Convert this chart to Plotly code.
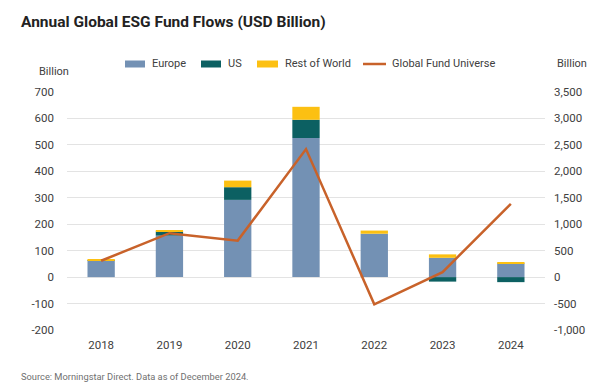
import plotly.graph_objects as go

years = ["2018", "2019", "2020", "2021", "2022", "2023", "2024"]
europe = [61, 157, 292, 526, 164, 73, 53]
us = [3, 15, 48, 69, 0, -17, -19]
rest_of_world = [3, 4, 25, 49, 12, 13, 2]
global_universe = [310, 830, 690, 2420, -515, 95, 1385]

left_ticks = [-200, -100, 0, 100, 200, 300, 400, 500, 600, 700]
left_labels = ["-200", "-100", "0", "100", "200", "300", "400", "500", "600", "700"]
right_ticks = [-1000, -500, 0, 500, 1000, 1500, 2000, 2500, 3000, 3500]
right_labels = ["-1,000", "-500", "0", "500", "1,000", "1,500", "2,000", "2,500", "3,000", "3,500"]

FONT = "Roboto, sans-serif"
TXT = "#404040"
C_EU, C_US, C_ROW, C_LINE = "#7391B4", "#0C6062", "#FCC012", "#C8622A"

# page has an 8px body margin: work in reference pixels and shift
OFF = 8
W, H = 592, 380
l, r, t, b = 59, 55, 84, 58
pw, ph = W - l - r, H - t - b
def px(xr): return (xr - OFF - l) / pw
def py(yr): return (H - b - (yr - OFF)) / ph

fig = go.Figure()
fig.add_bar(x=years, y=europe, name="Europe", marker_color=C_EU, marker_line_width=0)
fig.add_bar(x=years, y=us, name="US", marker_color=C_US, marker_line_width=0)
fig.add_bar(x=years, y=rest_of_world, name="Rest of World", marker_color=C_ROW, marker_line_width=0)
fig.add_scatter(x=years, y=global_universe, name="Global Fund Universe", mode="lines",
                line=dict(color=C_LINE, width=2.5), yaxis="y2")

annotations = [
    dict(text="<b>Annual Global ESG Fund Flows (USD Billion)</b>", x=px(19), y=py(22),
         xanchor="left", yanchor="middle", font=dict(size=15.5, color="#222222")),
    dict(text="Billion", x=px(37), y=py(71), xanchor="left", yanchor="middle",
         font=dict(size=11, color=TXT)),
    dict(text="Billion", x=px(555), y=py(64), xanchor="left", yanchor="middle",
         font=dict(size=11, color=TXT)),
    dict(text="Source: Morningstar Direct. Data as of December 2024.", x=px(19), y=py(376),
         xanchor="left", yanchor="middle", font=dict(size=9.3, color="#707070")),
]
shapes = []
# manual legend (swatches + labels) in reference pixel positions
legend_items = [
    ("Europe", C_EU, 125, 145, 150, "rect"),
    ("US", C_US, 201, 221, 226, "rect"),
    ("Rest of World", C_ROW, 257, 278, 283, "rect"),
    ("Global Fund Universe", C_LINE, 363, 386, 390, "line"),
]
LY = 64
for name, col, x0, x1, xt, kind in legend_items:
    if kind == "rect":
        shapes.append(dict(type="rect", xref="paper", yref="paper", x0=px(x0), x1=px(x1),
                           y0=py(LY + 3.5), y1=py(LY - 3.5), fillcolor=col, line_width=0))
    else:
        shapes.append(dict(type="line", xref="paper", yref="paper", x0=px(x0), x1=px(x1),
                           y0=py(LY), y1=py(LY), line=dict(color=col, width=2.5)))
    annotations.append(dict(text=name, x=px(xt), y=py(LY), xanchor="left", yanchor="middle",
                            font=dict(size=11, color=TXT)))
for a in annotations:
    a.update(xref="paper", yref="paper", showarrow=False)

fig.update_layout(
    width=W, height=H,
    margin=dict(l=l, r=r, t=t, b=b),
    paper_bgcolor="white", plot_bgcolor="white",
    barmode="relative", bargap=0.6,
    font=dict(family=FONT, size=12, color=TXT),
    showlegend=False,
    xaxis=dict(showgrid=False, showline=False, ticks="", ticklabelstandoff=6,
               tickfont=dict(size=11.5, color=TXT)),
    yaxis=dict(range=[-200, 700], tickvals=left_ticks, ticktext=left_labels,
               showgrid=True, gridcolor="#E3E3E3", gridwidth=1, zeroline=False,
               ticks="", ticklabelstandoff=12, tickfont=dict(size=11.5, color=TXT)),
    yaxis2=dict(range=[-1000, 3500], tickvals=right_ticks, ticktext=right_labels,
                overlaying="y", side="right", showgrid=False, zeroline=False,
                ticks="", ticklabelstandoff=8, tickfont=dict(size=11.5, color=TXT)),
    annotations=annotations,
    shapes=shapes,
)

fig.write_html("out.html")
